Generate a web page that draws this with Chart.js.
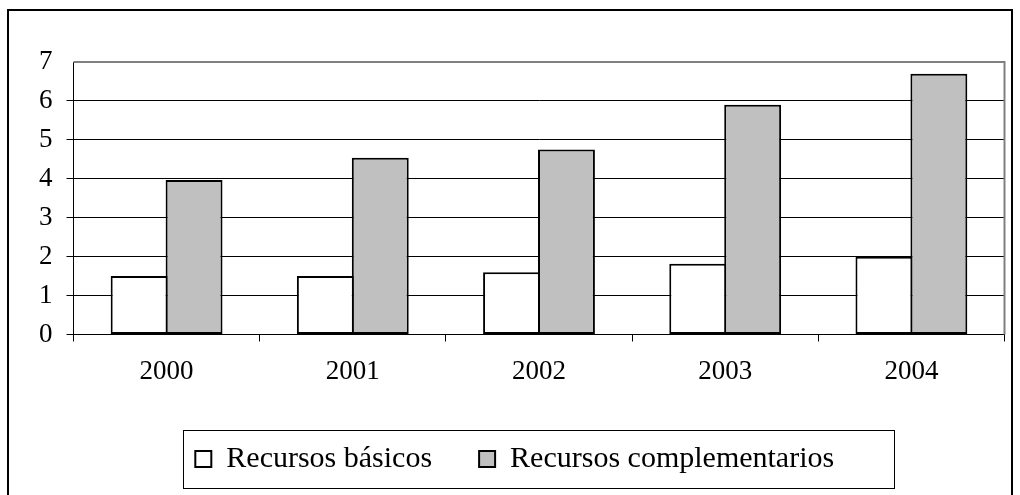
<!DOCTYPE html>
<html>
<head>
<meta charset="utf-8">
<script src="https://cdn.jsdelivr.net/npm/chart.js@4.4.1/dist/chart.umd.min.js"></script>
<style>
  html, body { margin: 0; padding: 0; background: #ffffff; }
  #wrap { width: 1020px; height: 495px; position: relative; }
</style>
</head>
<body>
<div id="wrap"><canvas id="c" width="1020" height="495"></canvas></div>
<script>
// Years on the category axis
const years = ['2000', '2001', '2002', '2003', '2004'];
// Series values
const recursosBasicos = [1.5, 1.5, 1.6, 1.82, 2.0];
const recursosComplementarios = [3.97, 4.54, 4.75, 5.9, 6.7];
// Value axis range
const yMin = 0;
const yMax = 7;
const yStep = 1;

const serif = '"Liberation Serif", "Times New Roman", serif';

// Frame around the whole figure, gray plot border and the legend box
const framePlugin = {
  id: 'frame',
  afterDraw(chart) {
    const ctx = chart.ctx;
    const a = chart.chartArea;
    ctx.save();
    // plot border (top and right) in gray
    ctx.strokeStyle = '#808080';
    ctx.lineWidth = 2;
    ctx.beginPath();
    ctx.moveTo(a.left, a.top);
    ctx.lineTo(a.right, a.top);
    ctx.lineTo(a.right, a.bottom);
    ctx.stroke();
    // outer frame
    ctx.strokeStyle = '#000000';
    ctx.lineWidth = 2;
    ctx.beginPath();
    ctx.moveTo(8, 500);
    ctx.lineTo(8, 10);
    ctx.lineTo(1012, 10);
    ctx.lineTo(1012, 500);
    ctx.stroke();
    // legend box
    const lg = chart.legend;
    if (lg && lg.legendHitBoxes && lg.legendHitBoxes.length) {
      const hb = lg.legendHitBoxes;
      const first = hb[0];
      const last = hb[hb.length - 1];
      const cy = first.top + first.height / 2;
      const left = Math.round(first.left - 12) + 0.5;
      const right = Math.round(last.left + last.width + 60) + 0.5;
      ctx.strokeStyle = '#000000';
      ctx.lineWidth = 1;
      ctx.strokeRect(left, Math.round(cy - 29) + 0.5, right - left, 58);
    }
    ctx.restore();
  }
};

new Chart(document.getElementById('c'), {
  type: 'bar',
  data: {
    labels: years,
    datasets: [
      {
        label: 'Recursos básicos',
        data: recursosBasicos,
        backgroundColor: '#ffffff',
        borderColor: '#000000',
        borderWidth: 2,
        borderSkipped: false
      },
      {
        label: 'Recursos complementarios',
        data: recursosComplementarios,
        backgroundColor: '#c0c0c0',
        borderColor: '#000000',
        borderWidth: 2,
        borderSkipped: false
      }
    ]
  },
  options: {
    responsive: false,
    animation: false,
    devicePixelRatio: 1,
    categoryPercentage: 0.59,
    // slightly wider than the slot so neighbouring bars share one edge
    barPercentage: 1.036,
    layout: { padding: { left: 25, right: 15.5, top: 62, bottom: 11 } },
    plugins: {
      tooltip: { enabled: false },
      legend: {
        position: 'bottom',
        align: 'center',
        labels: {
          boxWidth: 16,
          boxHeight: 16,
          padding: 47,
          color: '#000000',
          font: { family: serif, size: 30 }
        }
      }
    },
    scales: {
      x: {
        offset: true,
        afterFit(scale) { scale.height = 62.5; },
        grid: {
          offset: true,
          drawOnChartArea: false,
          drawTicks: true,
          tickLength: 7,
          color: '#000000',
          lineWidth: 1
        },
        border: { display: true, color: '#000000', width: 1 },
        ticks: {
          color: '#000000',
          padding: 14,
          font: { family: serif, size: 27 }
        }
      },
      y: {
        min: yMin,
        max: yMax,
        afterFit(scale) { scale.width = 48.5; },
        grid: {
          drawTicks: true,
          tickLength: 7,
          color: (c) => (c.tick && c.tick.value === yMax ? 'rgba(0,0,0,0)' : '#000000'),
          lineWidth: 1
        },
        border: { display: true, color: '#000000', width: 1 },
        ticks: {
          stepSize: yStep,
          color: '#000000',
          padding: 14,
          font: { family: serif, size: 27 }
        }
      }
    }
  },
  plugins: [framePlugin]
});
</script>
</body>
</html>
